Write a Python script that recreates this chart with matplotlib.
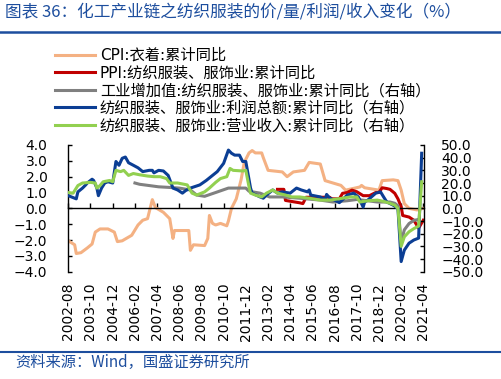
import matplotlib
matplotlib.use("Agg")
import matplotlib.pyplot as plt
from matplotlib.font_manager import FontProperties
from matplotlib.ticker import StrMethodFormatter
import pandas as pd

# ---------------- data ----------------
tick_labels = ["2002-08", "2003-10", "2004-12", "2006-02", "2007-04", "2008-06",
               "2009-08", "2010-10", "2011-12", "2013-02", "2014-04", "2015-06",
               "2016-08", "2017-10", "2018-12", "2020-02", "2021-04"]

cpi_dates = ["2002-08", "2002-12", "2003-01", "2003-04", "2003-08", "2003-11", "2004-01", "2004-04",
             "2004-09", "2005-01", "2005-03", "2005-06", "2005-12", "2006-04", "2006-07", "2006-10",
             "2007-01", "2007-03", "2007-08", "2007-12", "2008-02", "2008-03", "2008-12", "2009-01",
             "2009-03", "2009-10", "2009-12", "2010-01", "2010-03", "2010-05", "2010-08", "2010-12",
             "2011-01", "2011-03", "2011-06", "2011-09", "2011-11", "2012-02", "2012-04", "2012-06",
             "2012-10", "2012-11", "2013-02", "2013-11", "2014-02", "2014-06", "2015-01", "2015-04",
             "2015-11", "2016-02", "2016-12", "2017-03", "2017-12", "2018-01", "2018-03", "2018-12",
             "2019-02", "2019-09", "2019-12", "2020-02", "2020-04", "2020-07", "2020-12", "2021-04"]
cpi_values = [-2.05, -2.3, -2.85, -2.8, -2.5, -2.25, -1.5, -1.3,
              -1.3, -1.5, -2.1, -2.05, -1.7, -1.05, -0.75, -0.65,
              0.55, 0.05, -0.25, -0.65, -1.9, -1.4, -1.4, -2.65,
              -2.3, -2.35, -1.9, -0.45, -0.95, -1.05, -0.95, -1.1,
              -0.8, 0.0, 0.6, 1.8, 2.9, 3.5, 3.65, 3.5,
              3.5, 3.2, 2.4, 2.3, 2.0, 2.3, 2.4, 2.9,
              2.8, 1.75, 1.45, 1.15, 1.35, 1.45, 1.3, 1.15,
              1.75, 1.8, 1.75, 1.15, 0.3, 0.0, -0.1, 0.0]

ppi_dates = ["2013-08", "2013-12", "2014-01", "2014-10", "2014-12", "2015-02", "2016-05", "2016-06",
             "2016-11", "2017-01", "2017-04", "2017-07", "2017-10", "2018-02", "2018-06", "2018-10",
             "2018-12", "2019-02", "2019-05", "2019-07", "2019-10", "2019-12", "2020-02", "2020-03",
             "2020-07", "2020-10", "2021-01", "2021-04"]
ppi_values = [1.2, 1.2, 0.5, 0.35, 0.3, 0.7, 0.7, 0.6,
              0.6, 0.95, 1.0, 1.15, 1.05, 0.8, 0.8, 1.0,
              1.0, 1.3, 1.25, 1.2, 0.95, 0.6, 0.1, -0.45,
              -0.55, -0.75, -1.25, -0.75]

iva_dates = ["2006-02", "2006-05", "2006-11", "2007-05", "2007-12", "2008-06", "2009-01", "2009-05",
             "2009-10", "2010-05", "2011-01", "2011-09", "2011-12", "2012-02", "2012-09", "2013-03",
             "2013-11", "2014-10", "2015-11", "2016-07", "2017-04", "2017-10", "2018-05", "2018-11",
             "2019-07", "2019-10", "2019-12", "2020-02", "2020-04", "2020-07", "2020-10", "2020-12"]
iva_values = [20, 19, 18, 17, 16.5, 16, 14.5, 10.5,
              9.5, 12.5, 16, 16, 16, 13.5, 12, 9,
              9, 8, 6.5, 5, 6, 7, 6, 5,
              5, 4, 2, -27, -17, -12, -9.5, -9]

profit_dates = ["2002-08", "2002-10", "2003-01", "2003-02", "2003-05", "2003-07", "2003-08", "2003-11",
                "2003-12", "2004-02", "2004-03", "2004-05", "2004-07", "2004-09", "2004-12", "2005-02",
                "2005-04", "2005-06", "2005-08", "2005-10", "2006-01", "2006-04", "2006-07", "2006-11",
                "2007-01", "2007-02", "2007-05", "2007-08", "2007-11", "2008-02", "2008-05", "2008-08",
                "2008-10", "2009-01", "2009-07", "2009-11", "2010-06", "2010-10", "2011-01", "2011-03",
                "2011-05", "2011-08", "2011-10", "2011-12", "2012-03", "2012-04", "2012-09", "2012-11",
                "2013-01", "2013-05", "2013-08", "2013-11", "2014-04", "2014-08", "2014-11", "2015-03",
                "2015-04", "2015-05", "2015-11", "2016-02", "2016-03", "2016-05", "2016-08", "2016-11",
                "2017-02", "2017-04", "2017-08", "2017-11", "2018-02", "2018-03", "2018-05", "2018-10",
                "2019-01", "2019-03", "2019-05", "2019-09", "2019-12", "2020-02", "2020-04", "2020-07",
                "2020-10", "2021-01", "2021-03"]
profit_values = [10, 9, 7.5, 13, 16, 18.5, 20, 23,
                 22, 16, 10, 16, 20, 21, 20, 37,
                 34, 39.5, 40.5, 36, 34, 32, 29, 30,
                 30, 28, 30, 29.5, 26, 16, 14.5, 12,
                 14, 16, 18.5, 22, 29, 35.5, 46, 43.5,
                 42, 42, 37, 37, 16, 12, 9, 8,
                 10.5, 14.5, 12, 13, 12, 16, 14.5, 13,
                 14.5, 10.5, 9, 7, 11, 8, 6.5, 4.5,
                 8, 10.5, 12, 9, 1, 5, 6.5, 12,
                 13, 9, 5, 2.5, 0, -42, -33, -27.5,
                 -25, -23.5, 43.5]

revenue_dates = ["2002-08", "2002-11", "2003-02", "2003-05", "2003-10", "2004-01", "2004-02", "2004-04",
                 "2004-06", "2004-10", "2004-12", "2005-02", "2005-05", "2005-07", "2005-10", "2006-01",
                 "2006-05", "2006-10", "2007-02", "2007-06", "2007-10", "2007-12", "2008-05", "2008-11",
                 "2009-02", "2009-05", "2009-10", "2010-01", "2010-05", "2010-08", "2010-12", "2011-02",
                 "2011-04", "2011-10", "2011-12", "2012-02", "2012-03", "2012-06", "2012-10", "2013-01",
                 "2013-05", "2013-08", "2014-01", "2014-05", "2014-10", "2015-04", "2015-11", "2016-05",
                 "2017-01", "2017-06", "2017-10", "2017-12", "2018-05", "2018-11", "2019-03", "2019-07",
                 "2019-10", "2019-12", "2020-02", "2020-04", "2020-07", "2020-10", "2021-01", "2021-03"]
revenue_values = [12.5, 12, 18, 20, 20.5, 20, 16, 18,
                  21, 22, 21, 30, 29, 30, 26, 27.5,
                  26.5, 25.5, 25, 25, 23.5, 20, 20, 18.5,
                  12, 10.5, 13, 16, 20.5, 23.5, 25, 31.5,
                  30, 29.5, 30, 17, 12, 10.5, 9, 12,
                  14.5, 12, 10.5, 9, 9, 8, 6.5, 6.5,
                  8, 9, 9, 5, 6, 6.5, 5.5, 4,
                  2.5, 0, -30, -22.5, -18.5, -16, -14, 21]

labels = ["CPI:衣着:累计同比",
          "PPI:纺织服装、服饰业:累计同比",
          "工业增加值:纺织服装、服饰业:累计同比（右轴）",
          "纺织服装、服饰业:利润总额:累计同比（右轴）",
          "纺织服装、服饰业:营业收入:累计同比（右轴）"]
colors = ["#F4B183", "#C00000", "#808080", "#0B3E94", "#92D050"]

title = "图表 36：化工产业链之纺织服装的价/量/利润/收入变化（%）"
source = "资料来源：Wind，国盛证券研究所"

left_ticks = [-4, -3, -2, -1, 0, 1, 2, 3, 4]
right_ticks = [-50, -40, -30, -20, -10, 0, 10, 20, 30, 40, 50]

# ---------------- figure ----------------
W, H = 502, 379
fig = plt.figure(figsize=(W / 100, H / 100), dpi=100)
cjk = ["Noto Sans CJK SC", "DejaVu Sans"]
mixed = ["DejaVu Sans", "Noto Sans CJK SC"]
blue_txt = "#1D4E9E"

ax = fig.add_axes([68.3 / W, 1 - 271.7 / H, (424.5 - 68.3) / W, (271.7 - 145) / H])
ax2 = ax.twinx()


def d(lst):
    return pd.to_datetime(lst, format="%Y-%m")


lw = 2.2
l1, = ax.plot(d(cpi_dates), cpi_values, color=colors[0], lw=lw, solid_joinstyle="round")
l2, = ax.plot(d(ppi_dates), ppi_values, color=colors[1], lw=lw, solid_joinstyle="round")
l3, = ax2.plot(d(iva_dates), iva_values, color=colors[2], lw=lw, solid_joinstyle="round")
l4, = ax2.plot(d(profit_dates), profit_values, color=colors[3], lw=lw, solid_joinstyle="round")
l5, = ax2.plot(d(revenue_dates), revenue_values, color=colors[4], lw=lw, solid_joinstyle="round")

ax.set_ylim(-4, 4)
ax2.set_ylim(-50, 50)
ax.set_xlim(pd.Timestamp("2002-08-01"), pd.Timestamp("2021-04-24"))

tick_pos = d(tick_labels)
ax.set_xticks(tick_pos)
ax.set_xticklabels(tick_labels)

ax.set_yticks(left_ticks)
ax2.set_yticks(right_ticks)
ax.yaxis.set_major_formatter(StrMethodFormatter("{x:.1f}"))
ax2.yaxis.set_major_formatter(StrMethodFormatter("{x:.1f}"))

# spines
ax.spines["top"].set_visible(False)
ax.spines["right"].set_visible(False)
ax.spines["bottom"].set_position(("data", 0))
for s in ["top", "bottom", "left"]:
    ax2.spines[s].set_visible(False)
for sp in [ax.spines["left"], ax.spines["bottom"], ax2.spines["right"]]:
    sp.set_linewidth(1.0)
    sp.set_color("black")

ax.tick_params(axis="x", direction="in", length=3.8, width=1, labelbottom=False)
ax.tick_params(axis="y", direction="in", length=3.2, width=1, pad=15, labelsize=10)
ax2.tick_params(axis="y", direction="in", length=3.2, width=1, pad=12, labelsize=10)
ax2.xaxis.set_visible(True)
ax2.tick_params(axis="x", bottom=True, top=False, length=0, labelbottom=True,
                labeltop=False, labelrotation=90, pad=8, labelsize=10)
ax2.set_zorder(ax.get_zorder() + 1)
ax2.patch.set_visible(False)

# legend
fig.legend([l1, l2, l3, l4, l5], labels, loc="upper left",
           bbox_to_anchor=(55 / W, 1 - 48 / H), frameon=False, borderpad=0,
           borderaxespad=0, handlelength=2.65, handletextpad=0.28, labelspacing=0.17,
           prop=FontProperties(family=mixed, size=11))

# title, rules and source
fig.text(5 / W, 1 - 12 / H, title, family=cjk, fontsize=12, color=blue_txt,
         va="center", ha="left", style="italic")
fig.add_artist(plt.Line2D([0, 1], [1 - 32 / H, 1 - 32 / H], color=blue_txt, lw=1.8,
                          transform=fig.transFigure))
fig.add_artist(plt.Line2D([0, 1], [1 - 351.5 / H, 1 - 351.5 / H], color=blue_txt, lw=1.5,
                          transform=fig.transFigure))
fig.text(15 / W, 1 - 362 / H, source, family=cjk, fontsize=11, color=blue_txt,
         va="center", ha="left", style="italic")

fig.savefig("out.png", dpi=100)
